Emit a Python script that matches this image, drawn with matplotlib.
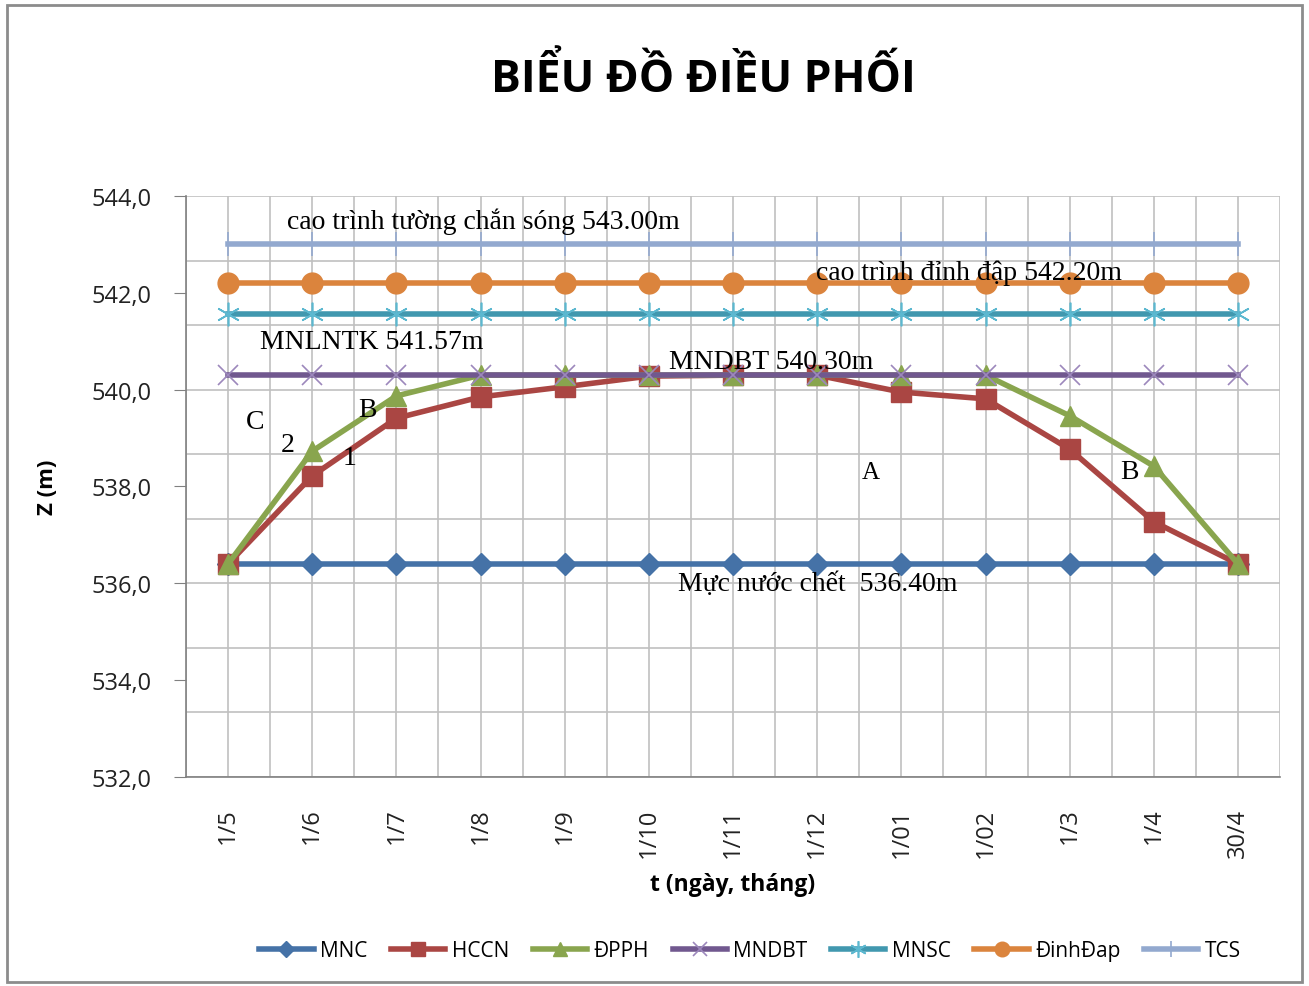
import matplotlib
matplotlib.use("Agg")
import matplotlib.pyplot as plt
import numpy as np
from matplotlib.patches import Rectangle

categories = ["1/5", "1/6", "1/7", "1/8", "1/9", "1/10", "1/11", "1/12", "1/01", "1/02", "1/3", "1/4", "30/4"]
mnc = [536.4] * 13
hccn = [536.4, 538.22, 539.41, 539.85, 540.06, 540.28, 540.3, 540.3, 539.95, 539.81, 538.77, 537.27, 536.4]
dpph = [536.4, 538.73, 539.87, 540.3, 540.3, 540.3, 540.3, 540.3, 540.3, 540.3, 539.46, 538.42, 536.4]
mndbt = [540.3] * 13
mnsc = [541.57] * 13
dinhdap = [542.2] * 13
tcs = [543.0] * 13
series_names = ["MNC", "HCCN", "ĐPPH", "MNDBT", "MNSC", "ĐinhĐap", "TCS"]
y_ticks = [532, 534, 536, 538, 540, 542, 544]

plt.rcParams['font.family'] = ['Open Sans', 'DejaVu Sans']

fig = plt.figure(figsize=(13.09, 9.87), dpi=100)
fig.patches.append(Rectangle((0.005, 0.004), 0.99, 0.99, transform=fig.transFigure,
                             fill=False, edgecolor="#8c8c8c", linewidth=2))
ax = fig.add_axes([0.1421, 0.2118, 0.8358, 0.5886])

x = np.arange(len(categories))
ax.set_xlim(-0.5, len(categories) - 0.5)
ax.set_ylim(532, 544)

# grid (secondary-style spacing as in reference)
for gy in np.linspace(532, 544, 10):
    ax.axhline(gy, color="#c0c0c0", lw=1.2, zorder=0)
for gx in np.arange(-0.5, len(categories), 0.5):
    ax.axvline(gx, color="#c0c0c0", lw=1.2, zorder=0)

lw = 4
ax.plot(x, mnc, color="#4572A7", lw=lw, marker="D", ms=11, label=series_names[0], zorder=3)
ax.plot(x, hccn, color="#AA4643", lw=lw, marker="s", ms=15, label=series_names[1], zorder=4)
ax.plot(x, dpph, color="#89A54E", lw=lw, marker="^", ms=15, label=series_names[2], zorder=5)
ax.plot(x, mndbt, color="#71588F", lw=lw, marker="x", ms=15, mew=1.2, mec="#9c88bc", label=series_names[3], zorder=6)
ax.plot(x, mnsc, color="#4198AF", lw=lw, marker=(6, 2, 0), ms=17, mew=1.2, mec="#5cb8d0", label=series_names[4], zorder=6)
ax.plot(x, dinhdap, color="#DB843D", lw=lw, marker="o", ms=15, label=series_names[5], zorder=6)
ax.plot(x, tcs, color="#93A9CF", lw=lw, marker="|", ms=17, mew=1.2, label=series_names[6], zorder=6)

ax.set_yticks(y_ticks)
ax.set_yticklabels([f"{v:.1f}".replace(".", ",") for v in y_ticks], fontsize=17, color="#222222")
ax.set_xticks(x)
ax.set_xticklabels(categories, rotation=90, fontsize=17, color="#222222")
ax.tick_params(axis="y", direction="out", length=9, color="#808080", pad=16)
ax.tick_params(axis="x", length=0, pad=22)
for s in ["top", "right"]:
    ax.spines[s].set_visible(False)
for s in ["left", "bottom"]:
    ax.spines[s].set_color("#808080")
    ax.spines[s].set_linewidth(1.2)

ax.set_xlabel("t (ngày, tháng)", fontsize=16.5, fontweight="bold", va="center")
ax.xaxis.set_label_coords(0.5, -0.184)
ax.set_ylabel("Z (m)", fontsize=16, fontweight="bold", labelpad=24)

fig.text(0.537, 0.919, "BIỂU ĐỒ ĐIỀU PHỐI", ha="center", va="center", fontsize=32, fontweight="bold")

serif = ["Liberation Serif", "DejaVu Serif"]
def lab(xp, yp, s, size=20):
    ax.text(xp, yp, s, family=serif, fontsize=size, ha="left", va="center", zorder=10)

lab(0.70, 543.48, "cao trình tường chắn sóng 543.00m")
lab(6.99, 542.42, "cao trình đỉnh đập 542.20m")
lab(0.38, 541.0, "MNLNTK 541.57m")
lab(5.24, 540.58, "MNDBT 540.30m")
lab(0.21, 539.35, "C")
lab(0.62, 538.86, "2")
lab(1.55, 539.6, "B")
lab(1.36, 538.6, "1")
lab(7.53, 538.3, "A", size=18)
lab(10.6, 538.3, "B")
lab(5.35, 536.0, "Mực nước chết  536.40m")

fig.legend(loc="center", bbox_to_anchor=(0.573, 0.036), ncol=7, frameon=False,
           prop={"family": ["Open Sans", "DejaVu Sans"], "size": 15},
           handlelength=2.6, columnspacing=1.15, handletextpad=0.3, markerscale=0.7)

fig.savefig("out.png", dpi=100)
